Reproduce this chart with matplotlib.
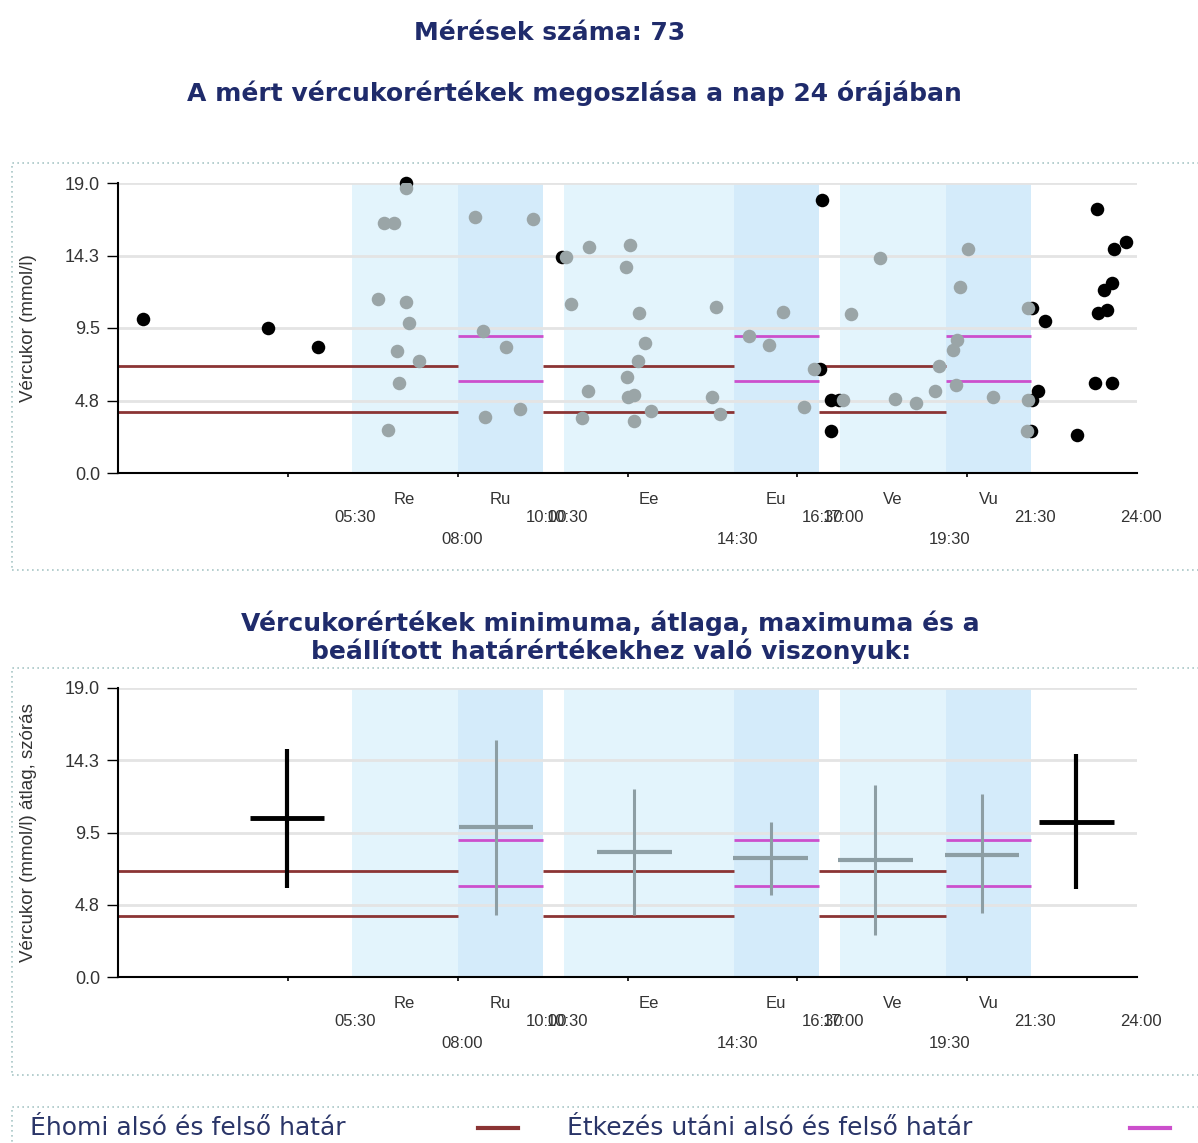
import matplotlib.pyplot as plt
from matplotlib.patches import Rectangle
from matplotlib.lines import Line2D

# measurements outside the meal periods (hour of day, mmol/l)
black_h = [0.60, 3.53, 4.70, 6.79, 10.45, 16.53, 16.58, 16.80, 16.97, 16.79,
           21.53, 21.53, 21.51, 21.83, 21.67, 22.58, 23.05, 23.45, 23.75, 23.41,
           23.23, 23.07, 23.30, 23.02, 23.41]
black_v = [10.09, 9.48, 8.28, 19.0, 14.17, 6.80, 17.89, 4.78, 4.78, 2.77,
           10.79, 4.78, 2.77, 9.98, 5.39, 2.47, 17.28, 14.70, 15.14, 12.47,
           11.99, 10.47, 10.68, 5.92, 5.92]

# measurements inside the meal periods
gray_h = [6.13, 6.26, 6.50, 6.79, 6.78, 6.85, 6.58, 7.09, 6.61, 6.35,
          8.42, 9.77, 8.60, 9.14, 8.65, 9.46,
          10.54, 11.10, 10.67, 11.06, 10.92, 12.07, 11.96, 12.27, 12.42, 12.24,
          11.98, 12.00, 12.15, 12.56, 12.16, 14.09, 13.98, 14.18,
          14.87, 15.34, 15.66, 16.15, 16.40,
          17.07, 17.27, 17.95, 18.31, 18.79, 19.25, 19.34, 19.66, 19.75, 19.82,
          20.02, 19.73, 20.62, 21.44, 21.44, 21.42]
gray_v = [11.40, 16.40, 16.40, 18.70, 11.19, 9.81, 8.00, 7.34, 5.92, 2.82,
          16.80, 16.62, 9.33, 8.28, 3.69, 4.17,
          14.17, 14.79, 11.07, 5.39, 3.58, 14.92, 13.48, 10.51, 8.50, 7.32,
          6.27, 5.00, 5.09, 4.08, 3.39, 10.90, 5.00, 3.87,
          8.98, 8.39, 10.57, 4.30, 6.80,
          4.78, 10.42, 14.09, 4.83, 4.61, 5.39, 7.01, 8.06, 8.72, 12.21,
          14.70, 5.79, 5.00, 10.79, 4.78, 2.77]

# meal periods
band_names = ['Re', 'Ru', 'Ee', 'Eu', 'Ve', 'Vu']
band_start = [5.5, 8.0, 10.5, 14.5, 17.0, 19.5]
band_end = [8.0, 10.0, 14.5, 16.5, 19.5, 21.5]
band_after_meal = [False, True, False, True, False, True]

# limits: fasting 4-7, after meal 6-9
fast_low, fast_high = 4.0, 7.0
meal_low, meal_high = 6.0, 9.0
fast_segments = [(0.0, 8.0), (10.0, 14.5), (16.5, 19.5)]
meal_segments = [(8.0, 10.0), (14.5, 16.5), (19.5, 21.5)]

# time labels under the axis (row 0 upper, row 1 lower)
time_h = [5.5, 8.0, 10.0, 10.5, 14.5, 16.5, 17.0, 19.5, 21.5, 24.0]
time_labels = ['05:30', '08:00', '10:00', '10:30', '14:30', '16:30', '17:00', '19:30', '21:30', '24:00']
time_row = [0, 1, 0, 0, 1, 0, 0, 1, 0, 0]

# min / mean / max per period
cross_h = [3.98, 8.90, 12.16, 15.37, 17.84, 20.35, 22.57]
cross_min = [5.86, 4.10, 4.10, 5.40, 2.76, 4.21, 5.79]
cross_mean = [10.47, 9.87, 8.20, 7.81, 7.68, 8.05, 10.20]
cross_max = [15.01, 15.58, 12.38, 10.18, 12.59, 12.00, 14.63]
cross_outside = [True, False, False, False, False, False, True]

y_ticks = [0.0, 4.75, 9.5, 14.25, 19.0]
y_ticklabels = ['0.0', '4.8', '9.5', '14.3', '19.0']

navy = '#1f2b6b'
brown = '#8b3434'
magenta = '#cc4fcc'
light_band = '#e3f4fc'
dark_band = '#d4ebfa'
dot_gray = '#9aa5a7'
cross_gray = '#8d9ea4'

plt.rcParams['font.family'] = ['DejaVu Sans']

fig = plt.figure(figsize=(11.98, 11.43), dpi=100)
W, H = 1198, 1143


def frac(x, y):
    return x / W, 1 - y / H


ax1 = fig.add_axes([118 / W, 1 - 473 / H, 1019 / W, 290 / H])
ax2 = fig.add_axes([118 / W, 1 - 977 / H, 1019 / W, 289 / H])


def base(ax, ylabel):
    ax.set_xlim(0, 24)
    ax.set_ylim(0, 19)
    for s0, s1, after in zip(band_start, band_end, band_after_meal):
        ax.axvspan(s0, s1, color=dark_band if after else light_band, lw=0, zorder=0)
    for y in y_ticks:
        ax.axhline(y, color='#e4e4e4', lw=2, zorder=1)
    for a, b in fast_segments:
        ax.hlines([fast_low, fast_high], a, b, color=brown, lw=2, zorder=2)
    for a, b in meal_segments:
        ax.hlines([meal_low, meal_high], a, b, color=magenta, lw=2, zorder=2)
    ax.spines['top'].set_visible(False)
    ax.spines['right'].set_visible(False)
    ax.spines['left'].set_linewidth(1.5)
    ax.spines['bottom'].set_linewidth(1.5)
    ax.set_yticks(y_ticks)
    ax.set_yticklabels(y_ticklabels, family='Liberation Sans', fontsize=13, color='#333333')
    ax.tick_params(axis='y', length=8, width=1, pad=5)
    ax.set_xticks([4, 8, 12, 16, 20])
    ax.set_xticklabels([])
    ax.tick_params(axis='x', length=3, width=1.2)
    ax.set_ylabel(ylabel, family='Liberation Sans', fontsize=13.5, color='#333333')
    ax.yaxis.set_label_coords(-0.079, 0.5)
    for name, s0, s1 in zip(band_names, band_start, band_end):
        ax.annotate(name, xy=((s0 + s1) / 2, 0), xycoords=('data', 'axes fraction'),
                    xytext=(0, -26), textcoords='offset pixels', ha='center', va='center',
                    family='Liberation Sans', fontsize=12, color='#333333')
    for h, lab, row in zip(time_h, time_labels, time_row):
        ax.annotate(lab, xy=(h, 0), xycoords=('data', 'axes fraction'),
                    xytext=(4, -44 - 22 * row), textcoords='offset pixels', ha='center', va='center',
                    family='Liberation Sans', fontsize=12, color='#333333')


base(ax1, 'Vércukor (mmol/l)')
ax1.scatter(black_h, black_v, s=95, color='black', lw=0, zorder=4, clip_on=False)
ax1.scatter(gray_h, gray_v, s=95, color=dot_gray, lw=0, zorder=5)

base(ax2, 'Vércukor (mmol/l) átlag, szórás')
for h, lo, m, hi, out in zip(cross_h, cross_min, cross_mean, cross_max, cross_outside):
    c = 'black' if out else cross_gray
    ax2.vlines(h, lo, hi, color=c, lw=3 if out else 2.2, zorder=4)
    ax2.hlines(m, h - 0.88, h + 0.88, color=c, lw=3.5 if out else 3, zorder=4)

# titles
fig.text(*frac(550, 33), 'Mérések száma: 73', ha='center', va='center',
         fontsize=18, fontweight='bold', color=navy)
fig.text(*frac(574, 93), 'A mért vércukorértékek megoszlása a nap 24 órájában', ha='center', va='center',
         fontsize=18, fontweight='bold', color=navy)
fig.text(*frac(610, 623), 'Vércukorértékek minimuma, átlaga, maximuma és a', ha='center', va='center',
         fontsize=18, fontweight='bold', color=navy)
fig.text(*frac(611, 651), 'beállított határértékekhez való viszonyuk:', ha='center', va='center',
         fontsize=18, fontweight='bold', color=navy)

# dotted frames
for top, bottom in [(163, 570), (668, 1075), (1107, 1160)]:
    x0, y0 = frac(12, bottom)
    fig.patches.append(Rectangle((x0, y0), 1.2, (bottom - top) / H, transform=fig.transFigure,
                                 fill=False, ls=(0, (1, 2)), lw=1.2, edgecolor='#a8c6c6'))

# legend
fig.text(*frac(30, 1128), 'Éhomi alsó és felső határ', ha='left', va='center', fontsize=18, color='#2a3568')
fig.text(*frac(567, 1128), 'Étkezés utáni alsó és felső határ', ha='left', va='center', fontsize=18, color='#2a3568')
fig.lines.append(Line2D([478 / W, 518 / W], [1 - 1128 / H] * 2, transform=fig.transFigure, color=brown, lw=3))
fig.lines.append(Line2D([1130 / W, 1170 / W], [1 - 1128 / H] * 2, transform=fig.transFigure, color=magenta, lw=3))

fig.savefig('out.png', dpi=100)
